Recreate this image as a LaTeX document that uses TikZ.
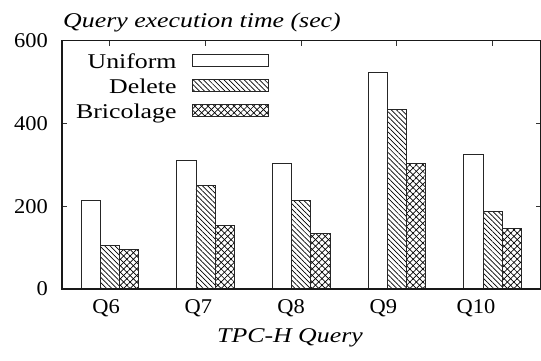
\documentclass[tikz,border=0pt]{standalone}
\usepackage{fontspec}
\setmainfont{Liberation Serif}
\usetikzlibrary{patterns.meta,positioning}

\begin{document}
\begin{tikzpicture}[x=95.7pt,y=0.4138pt,font=\fontsize{21}{25}\selectfont]
	\tikzstyle{frame} = [draw=black!90, line width=1.2pt];
	\tikzstyle{tick} = [draw=black!80, line width=1pt];
	\tikzstyle{bar} = [postaction={draw=black!85, line width=0.9pt}];
	\tikzstyle{uniform} = [fill=white, bar];
	\tikzstyle{delete} = [fill=white, postaction={pattern={Lines[angle=-45,distance=3.6pt,line width=0.7pt]}}, bar];
	\tikzstyle{bricolage} = [fill=white, postaction={pattern={Lines[angle=45,distance=4.6pt,line width=0.7pt]}}, postaction={pattern={Lines[angle=-45,distance=4.6pt,line width=0.7pt]}}, bar];
	\tikzstyle{legbox} = [minimum width=76pt, minimum height=12pt, inner sep=0pt];
	\tikzstyle{label} = [inner sep=0pt, xscale=1.07];
	\tikzstyle{wide} = [inner sep=0pt, xscale=1.23];
	\tikzstyle{legtext} = [wide, anchor=east, text height=16pt, text depth=0pt];
	\path[use as bounding box] (0.5,0) ++(-62pt,-71pt) rectangle ++(541pt,360pt);

	% bars: Uniform / Delete / Bricolage per query
	\foreach \q/\u/\d/\b in {1/213/105/96, 2/311/251/153, 3/303/213/134, 4/524/434/303, 5/326/187/146}{
		\path[uniform] (\q-0.3,0) rectangle (\q-0.1,\u);
		\path[delete] (\q-0.1,0) rectangle (\q+0.1,\d);
		\path[bricolage] (\q+0.1,0) rectangle (\q+0.3,\b);
	}

	% ticks and frame
	\foreach \q in {1,...,5}
		\draw[tick] (\q,600) -- ++(0pt,-5pt);
	\foreach \v in {200,400}{
		\draw[tick] (0.5,\v) -- ++(5pt,0pt);
		\draw[tick] (5.5,\v) -- ++(-5pt,0pt);
	}
	\draw[frame] (0.5,0) rectangle (5.5,600);

	% axis labels
	\foreach \v in {0,200,400,600}
		\draw node [label, anchor=east] (ylab\v) at ([xshift=-14pt]0.5,\v) {\v};
	\foreach \x/\n in {0.96/Q6, 1.926/Q7, 2.893/Q8, 3.859/Q9, 4.826/Q10}
		\draw node [label, anchor=base] (xlab\n) at ([yshift=-24pt]\x,0) {\n};
	\draw node [wide, anchor=base west, font=\fontsize{21}{25}\selectfont\itshape] (ytitle) at ([xshift=1pt,yshift=13pt]0.5,600) {Query execution time (sec)};
	\draw node [wide, anchor=base, font=\fontsize{21}{25}\selectfont\itshape] (xtitle) at ([yshift=-53.7pt]2.882,0) {TPC-H Query};

	% legend
	\draw node [uniform, legbox] (boxUniform) at (2.2555,553.4) {};
	\draw node [delete, legbox, below=13pt of boxUniform] (boxDelete) {};
	\draw node [bricolage, legbox, below=13pt of boxDelete] (boxBricolage) {};
	\draw node [legtext] (txtUniform) at ([xshift=-15pt]boxUniform.west) {Uniform};
	\draw node [legtext] (txtDelete) at ([xshift=-15pt]boxDelete.west) {Delete};
	\draw node [legtext] (txtBricolage) at ([xshift=-15pt]boxBricolage.west) {Bricolage};
\end{tikzpicture}
\end{document}
